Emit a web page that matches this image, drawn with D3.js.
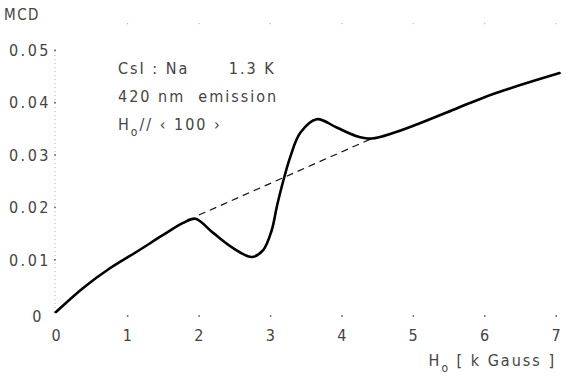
<!DOCTYPE html>
<html>
<head>
<meta charset="utf-8">
<style>
  body { margin: 0; background: #fff; }
  svg text { font-family: "DejaVu Sans Condensed", "DejaVu Sans", sans-serif; font-weight: 200; fill: #444; }
</style>
</head>
<body>
<svg width="566" height="382"></svg>
<script src="https://d3js.org/d3.v7.min.js"></script>
<script>
  // field in kGauss, MCD signal
  var fieldKG = [0, 0.38, 0.76, 1.13, 1.5, 1.78, 1.95, 2.2, 2.48, 2.74, 2.9, 3.02, 3.09, 3.16, 3.28, 3.42, 3.65, 3.93, 4.2, 4.42, 4.75, 5.2, 5.6, 6.0, 6.5, 7.05];
  var mcd = [0, 0.0046, 0.0084, 0.0115, 0.0147, 0.017, 0.0178, 0.0151, 0.0122, 0.0105, 0.0118, 0.0156, 0.02, 0.0239, 0.0296, 0.0342, 0.0368, 0.0352, 0.0336, 0.0331, 0.0343, 0.0366, 0.0388, 0.041, 0.0433, 0.0456];

  // dashed background line under the resonance
  var baseX = [2.0, 4.42];
  var baseY = [0.0185, 0.0331];

  var xTicks = [0, 1, 2, 3, 4, 5, 6, 7];
  var yTicks = [0, 0.01, 0.02, 0.03, 0.04, 0.05];
  var yTickLabels = ["0", "0.01", "0.02", "0.03", "0.04", "0.05"];
  var infoLines = ["CsI : Na      1.3 K", "420 nm  emission"];

  var svg = d3.select("svg"),
      margin = {top: 50, left: 56},
      width = 500,
      height = 262,
      g = svg.append("g").attr("transform", "translate(" + margin.left + "," + margin.top + ")");

  var x = d3.scaleLinear().domain([0, 7]).range([0, width]);
  var y = d3.scaleLinear().domain([0, 0.05]).range([height, 0]);

  // y axis: dotted line with small dot ticks
  g.append("line")
      .attr("x1", -1).attr("x2", -1)
      .attr("y1", y(0)).attr("y2", y(0.05))
      .attr("stroke", "#999")
      .attr("stroke-width", 0.8)
      .attr("stroke-dasharray", "1,3");

  g.selectAll(".ytick")
    .data(yTicks)
    .enter().append("rect")
      .attr("x", -2).attr("y", function(d) { return y(d) - 0.5; })
      .attr("width", 2).attr("height", 1.5)
      .attr("fill", "#777");

  g.selectAll(".ylab")
    .data(yTicks)
    .enter().append("text")
      .attr("x", function(d, i) { return i == 0 ? -12 : -5; })
      .attr("y", function(d, i) { return y(d) + (i == 0 ? 10 : 6); })
      .attr("text-anchor", "end")
      .attr("font-size", 16)
      .attr("letter-spacing", 2.5)
      .attr("fill", function(d, i) { return i == 5 ? "#aaa" : "#444"; })
      .text(function(d, i) { return yTickLabels[i]; });

  svg.append("text")
      .attr("x", 4).attr("y", 20)
      .attr("font-size", 15)
      .attr("letter-spacing", 1.5)
      .attr("fill", "#888")
      .text("MCD");

  // x axis: dot ticks, bottom and top
  g.selectAll(".xtick")
    .data(xTicks.slice(1))
    .enter().append("rect")
      .attr("x", function(d) { return x(d) - 0.5; })
      .attr("y", height + 3)
      .attr("width", 1.5).attr("height", 2)
      .attr("fill", "#777");

  g.selectAll(".xtop")
    .data(xTicks.slice(1))
    .enter().append("rect")
      .attr("x", function(d) { return x(d) - 0.5; })
      .attr("y", -27)
      .attr("width", 1.2).attr("height", 1.2)
      .attr("fill", "#bbb");

  g.selectAll(".xlab")
    .data(xTicks)
    .enter().append("text")
      .attr("x", function(d) { return x(d); })
      .attr("y", height + 29)
      .attr("text-anchor", "middle")
      .attr("font-size", 16)
      .text(function(d) { return d; });

  var xt = g.append("text")
      .attr("x", width)
      .attr("y", height + 54)
      .attr("text-anchor", "end")
      .attr("font-size", 16)
      .attr("letter-spacing", 2);
  xt.append("tspan").text("H");
  xt.append("tspan").attr("dy", 6).attr("font-size", 12).text("o");
  xt.append("tspan").attr("dy", -6).text(" [ k Gauss ]");

  // legend text
  g.selectAll(".info")
    .data(infoLines)
    .enter().append("text")
      .attr("x", 62)
      .attr("y", function(d, i) { return 24 + i * 28; })
      .attr("font-size", 16)
      .attr("letter-spacing", 2)
      .style("white-space", "pre")
      .text(function(d) { return d; });

  var ht = g.append("text")
      .attr("x", 62).attr("y", 80)
      .attr("font-size", 16)
      .attr("letter-spacing", 2)
      .style("white-space", "pre");
  ht.append("tspan").text("H");
  ht.append("tspan").attr("dy", 6).attr("font-size", 12).text("o");
  ht.append("tspan").attr("dy", -6).text("// \u2039 100 \u203A");

  // curves
  var pts = fieldKG.map(function(d, i) { return [d, mcd[i]]; });
  var line = d3.line()
      .x(function(d) { return x(d[0]); })
      .y(function(d) { return y(d[1]); })
      .curve(d3.curveCatmullRom.alpha(0.5));

  g.append("path")
      .datum(baseX.map(function(d, i) { return [d, baseY[i]]; }))
      .attr("fill", "none")
      .attr("stroke", "#111")
      .attr("stroke-width", 1.2)
      .attr("stroke-dasharray", "7,5")
      .attr("d", d3.line().x(function(d) { return x(d[0]); }).y(function(d) { return y(d[1]); }));

  g.append("path")
      .datum(pts)
      .attr("fill", "none")
      .attr("stroke", "#000")
      .attr("stroke-width", 2.6)
      .attr("stroke-linejoin", "round")
      .attr("stroke-linecap", "round")
      .attr("d", line);
</script>
</body>
</html>
